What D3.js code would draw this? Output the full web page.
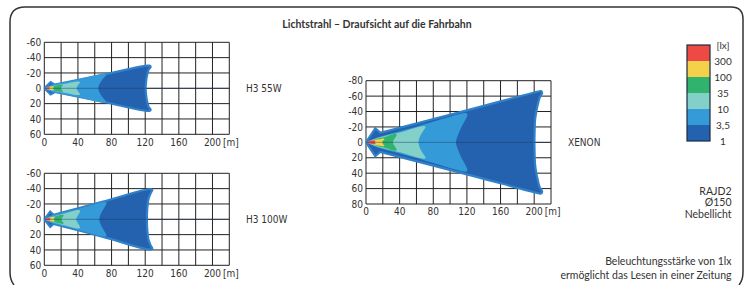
<!DOCTYPE html>
<html><head><meta charset="utf-8">
<script src="https://cdn.jsdelivr.net/npm/d3@7"></script>
<style>
html,body{margin:0;padding:0;background:#fff;}
svg{display:block;}
.tick{font-family:"DejaVu Sans Condensed","DejaVu Sans";font-stretch:condensed;font-size:10px;fill:#333;}
.lab{font-family:Lato,"Noto Sans",sans-serif;font-size:10.5px;fill:#333;}
</style></head>
<body>
<svg id="c" width="747" height="285"></svg>
<script>
// ---------- data ----------
const title = "Lichtstrahl – Draufsicht auf die Fahrbahn";
const legendLabels = ["[lx]", "300", "100", "35", "10", "3,5", "1"];
const xTicks = [0, 40, 80, 120, 160, 200];
const yTicksSmall = [-60, -40, -20, 0, 20, 40, 60];
const yTicksXenon = [-80, -60, -40, -20, 0, 20, 40, 60, 80];
const notes = ["RAJD2", "Ø150", "Nebellicht"];
const footnote = ["Beleuchtungsstärke von 1lx", "ermöglicht das Lesen in einer Zeitung"];

// upper half outlines [distance m, lateral m], outer (1 lx) first ... innermost (300 lx)
const h3_55w = [
  [[0,0],[7.5,-8],[12.5,-4.8],[70,-17.5],[125,-29.5],[126.5,-28],[124,-24],[122,-16],[121,-8],[120.5,0]],
  [[1,0],[6,-3.5],[40,-11.5],[72.5,-19],[73.5,-17.5],[71,-14],[67.5,-9],[65,-4],[64.2,0]],
  [[2,0],[10,-3],[25,-6],[41.5,-8.7],[42.5,-7.5],[40.5,-4.5],[38.5,0]],
  [[3,0],[10,-2.5],[21.5,-4.5],[22,-3.5],[20.5,-1.8],[20,0]],
  [[2,0],[5,-1.5],[11,-2.3],[11.5,-1.5],[10,0]],
  [[0.5,0],[2,-1],[6,-1.4],[6.5,-0.8],[5.5,0]]
];
const h3_100w = [
  [[0,0],[7,-10],[11,-6],[70,-23],[126,-39.5],[128.5,-38.5],[126.5,-34],[124,-27],[122.8,-18],[122.2,-9],[122,0]],
  [[1,0],[6,-4],[40,-13.5],[72.5,-22.5],[74,-21],[72,-16.5],[68.5,-10],[66,-4],[65.5,0]],
  [[2,0],[10,-3.5],[25,-8],[41.5,-12],[42.5,-10.5],[40.5,-6],[38.5,-2.5],[38,0]],
  [[3,0],[10,-3],[22,-6],[23,-5],[21.5,-2.5],[20.5,0]],
  [[2,0],[5,-1.8],[12,-2.8],[12.5,-2],[11,0]],
  [[0.5,0],[2,-1],[7,-1.6],[7.5,-1],[6.5,0]]
];
const xenon = [
  [[0,0],[11,-18],[17,-12.5],[120,-41.5],[205,-66],[208,-66.5],[209.5,-64],[206.5,-58],[204.5,-50],[202.5,-40],[201,-28],[200.5,-14],[200.3,0]],
  [[1,0],[10,-5],[60,-20.3],[118,-38],[120,-37.5],[120.5,-35],[118,-29],[113.5,-20],[109.5,-10],[107,0]],
  [[3,0],[12,-5],[40,-12.7],[70,-21],[70.8,-19.5],[68.8,-16],[65.2,-10],[63,-4],[62.5,0]],
  [[4,0],[12,-4],[24,-7.5],[35.5,-11],[36.5,-10],[35,-6.5],[33,-3],[32,0]],
  [[2,0],[8,-2.5],[15,-4],[21.5,-5],[22,-4],[20,-2],[19.5,0]],
  [[0.5,0],[4,-1.5],[11,-2.2],[11.5,-1.5],[10,0]]
];

// ---------- styles ----------
const zoneColors = ["#2462AF", "#359BD8", "#83D0C8", "#30B36C", "#F4D04B", "#EE4A43"];
const legendColors = ["#EE4A43", "#F4D04B", "#30B36C", "#83D0C8", "#359BD8", "#2462AF"];

const svg = d3.select("#c");

// frame
svg.append("path")
  .attr("d", "M14,285 Q10,280 10,272 L10,22 Q10,7 25,7 L731,7 Q743,7 743,19 L743,272 Q743,280 739,285")
  .attr("fill", "none").attr("stroke", "#333").attr("stroke-width", 1.5);

svg.append("text").attr("x", 377).attr("y", 28).attr("text-anchor", "middle")
  .attr("class", "lab").style("font-weight", "bold").style("font-size", "10.5px").text(title);

function mirror(pts) {
  return pts.concat(pts.slice(1, -1).reverse().map(([x, y]) => [x, -y]));
}
// arrow head of the outer zone: keep its corners sharp by doubling the points
function sharpen(full) {
  const n = full.length, out = [];
  full.forEach((p, i) => {
    out.push(p);
    if (i < 3 || i > n - 3) out.push(p);
  });
  return out;
}

let clipId = 0;
function chart(cfg) {
  const x = d3.scaleLinear().domain([0, 220]).range([cfg.x0, cfg.x1]);
  const y = d3.scaleLinear().domain([-cfg.ymax, cfg.ymax]).range([cfg.y0, cfg.y1]);
  const g = svg.append("g");
  const gridX = d3.range(0, 221, 20), gridY = d3.range(-cfg.ymax, cfg.ymax + 1, 20);
  g.selectAll(".gx").data(gridX).join("line")
    .attr("x1", d => x(d)).attr("x2", d => x(d)).attr("y1", cfg.y0).attr("y2", cfg.y1)
    .attr("stroke", "#222").attr("stroke-width", 1);
  g.selectAll(".gy").data(gridY).join("line")
    .attr("y1", d => y(d)).attr("y2", d => y(d)).attr("x1", cfg.x0).attr("x2", cfg.x1)
    .attr("stroke", "#222").attr("stroke-width", 1);

  const id = "clip" + (clipId++);
  svg.append("clipPath").attr("id", id).append("rect")
    .attr("x", cfg.x0 - 3).attr("y", cfg.y0).attr("width", cfg.x1 - cfg.x0 + 3).attr("height", cfg.y1 - cfg.y0);
  const line = d3.line().x(d => x(d[0])).y(d => y(d[1])).curve(d3.curveCatmullRomClosed.alpha(0.5));
  const bg = g.append("g").attr("clip-path", `url(#${id})`);
  cfg.zones.forEach((z, i) => {
    const full = mirror(z);
    bg.append("path").attr("d", line(i === 0 ? sharpen(full) : full))
      .attr("fill", zoneColors[i])
      .attr("stroke", i === 0 ? "#3080CA" : "none")
      .attr("stroke-width", i === 0 ? 2.2 : 0)
      .attr("stroke-linejoin", "miter");
  });
  // zero line over beams
  g.append("line").attr("x1", cfg.x0).attr("x2", cfg.x1).attr("y1", y(0)).attr("y2", y(0))
    .attr("stroke", "#1a3560").attr("stroke-opacity", 0.45).attr("stroke-width", 1);

  g.selectAll(".yt").data(cfg.yTicks).join("text").attr("class", "tick")
    .attr("x", cfg.x0 - 3).attr("y", d => y(d) + 3.6).attr("text-anchor", "end").text(d => d);
  g.selectAll(".xt").data(xTicks).join("text").attr("class", "tick")
    .attr("x", d => x(d)).attr("y", cfg.y1 + 11.3).attr("text-anchor", "middle").text(d => d);
  g.append("text").attr("class", "tick").attr("x", x(200) + 10.5).attr("y", cfg.y1 + 11.3).text("[m]");
  g.append("text").attr("class", "tick").attr("x", cfg.labelX).attr("y", y(0) + 3.6).text(cfg.label);
}

chart({x0: 44.3, x1: 229.3, y0: 42.3, y1: 134.3, ymax: 60, yTicks: yTicksSmall, zones: h3_55w, label: "H3 55W", labelX: 246});
chart({x0: 44.3, x1: 229.3, y0: 173.3, y1: 265.3, ymax: 60, yTicks: yTicksSmall, zones: h3_100w, label: "H3 100W", labelX: 246});
chart({x0: 366, x1: 551, y0: 80.7, y1: 204, ymax: 80, yTicks: yTicksXenon, zones: xenon, label: "XENON", labelX: 568});

// legend
const ly = d3.scaleBand().domain(d3.range(legendColors.length)).range([45, 141]);
const lg = svg.append("g");
lg.selectAll("rect").data(legendColors).join("rect")
  .attr("x", 687).attr("y", (d, i) => ly(i)).attr("width", 23).attr("height", ly.bandwidth())
  .attr("fill", d => d);
lg.append("rect").attr("x", 687).attr("y", 45).attr("width", 23).attr("height", 96)
  .attr("fill", "none").attr("stroke", "#1c2a40").attr("stroke-width", 1.2);
lg.selectAll("text").data(legendLabels).join("text").attr("class", "lab")
  .attr("x", 723).attr("y", (d, i) => 45 + i * ly.bandwidth() + 3.7).attr("text-anchor", "middle")
  .style("font-size", "10px").text(d => d);

svg.selectAll(".note").data(notes).join("text").attr("class", "lab")
  .attr("x", 731.5).attr("y", (d, i) => 194.5 + i * 11.5).attr("text-anchor", "end").text(d => d);
svg.selectAll(".foot").data(footnote).join("text").attr("class", "lab")
  .attr("x", 731.5).attr("y", (d, i) => 265.3 + i * 14).attr("text-anchor", "end").text(d => d);
</script>
</body></html>
